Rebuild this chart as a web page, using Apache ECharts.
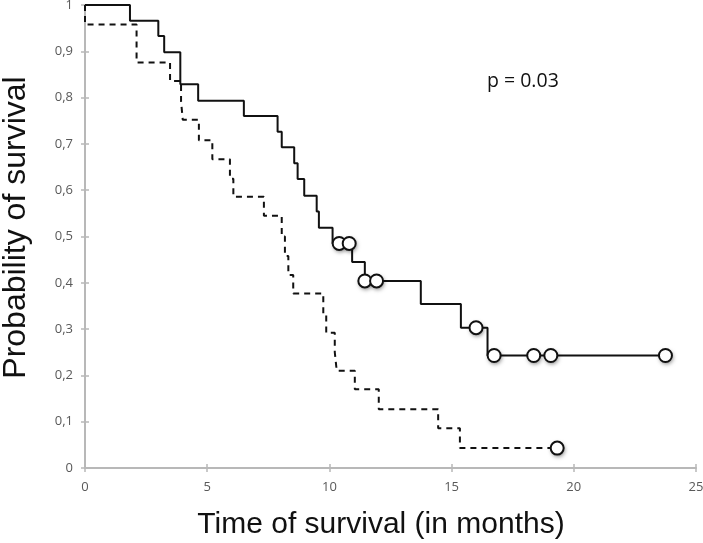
<!DOCTYPE html>
<html>
<head>
<meta charset="utf-8">
<script src="https://cdn.jsdelivr.net/npm/echarts@6/dist/echarts.min.js"></script>
<style>html,body{margin:0;padding:0;background:#fff}#c{width:703px;height:543px}</style>
</head>
<body>
<div id="c"></div>
<script>
// Solid group (step curve)
const solidTimes = [0, 1.84, 3.0, 3.24, 3.90, 4.63, 6.50, 7.88, 8.05, 8.56, 8.70, 8.97, 9.48, 9.57, 10.13, 10.93, 11.45, 13.74, 15.38, 16.47, 23.75];
const solidSurv  = [1, 0.966, 0.933, 0.898, 0.829, 0.793, 0.760, 0.726, 0.693, 0.658, 0.624, 0.588, 0.554, 0.519, 0.485, 0.445, 0.404, 0.354, 0.303, 0.243, 0.243];
const solidCensorTimes = [10.40, 10.81, 11.45, 11.93, 16.00, 16.74, 18.36, 19.06, 23.75];
const solidCensorSurv  = [0.485, 0.485, 0.404, 0.404, 0.303, 0.243, 0.243, 0.243, 0.243];

// Dashed group (step curve)
const dashTimes = [0, 0, 2.11, 3.48, 3.93, 4.00, 4.66, 5.21, 5.93, 6.07, 7.32, 8.05, 8.18, 8.32, 8.52, 9.75, 9.87, 10.22, 10.30, 11.04, 12.02, 14.45, 15.34, 19.32];
const dashSurv  = [1, 0.958, 0.876, 0.836, 0.792, 0.752, 0.708, 0.667, 0.625, 0.586, 0.545, 0.500, 0.458, 0.417, 0.377, 0.333, 0.292, 0.250, 0.210, 0.170, 0.127, 0.086, 0.043, 0.043];
const dashCensorTimes = [19.32];
const dashCensorSurv  = [0.043];

const xTicks = [0, 5, 10, 15, 20, 25];
const yTicks = [0, 0.1, 0.2, 0.3, 0.4, 0.5, 0.6, 0.7, 0.8, 0.9, 1];
const pText = 'p = 0.03';
const xTitle = 'Time of survival (in months)';
const yTitle = 'Probability of survival';

const zip = (a, b) => a.map((v, i) => [v, b[i]]);
const fmtY = v => String(+(+v).toFixed(1)).replace('.', ',');

const chart = echarts.init(document.getElementById('c'), null, {renderer: 'canvas'});
const axisGray = '#b8b8b8';
const lblColor = '#595959';
const lblFont = 'Open Sans';

const baseX = {
  type: 'value', min: xTicks[0], max: xTicks[xTicks.length - 1], interval: 5,
  splitLine: {show: false},
};
const baseY = {
  type: 'value', min: yTicks[0], max: yTicks[yTicks.length - 1], interval: 0.1,
  splitLine: {show: false},
};
const censorData = zip(solidCensorTimes, solidCensorSurv).concat(zip(dashCensorTimes, dashCensorSurv));

chart.setOption({
  animation: false,
  grid: {left: 85, right: 7, top: 5, bottom: 75, containLabel: false, outerBoundsMode: 'none'},
  xAxis: [
    Object.assign({}, baseX, {
      axisLine: {show: true, lineStyle: {color: axisGray, width: 2}},
      axisTick: {show: true, inside: false, length: 4, lineStyle: {color: axisGray, width: 1.5}},
      axisLabel: {color: lblColor, fontFamily: lblFont, fontSize: 13, margin: 13},
      name: xTitle, nameLocation: 'middle', nameGap: 42,
      nameTextStyle: {fontFamily: 'Liberation Sans', fontSize: 30, color: '#111', padding: [0, 19, 0, 0]}
    }),
    Object.assign({}, baseX, {
      position: 'bottom',
      axisLine: {show: false},
      axisTick: {show: true, inside: true, length: 4, lineStyle: {color: axisGray, width: 1.5}},
      axisLabel: {show: false}
    })
  ],
  yAxis: [
    Object.assign({}, baseY, {
      axisLine: {show: true, lineStyle: {color: axisGray, width: 2}},
      axisTick: {show: true, inside: false, length: 4, lineStyle: {color: axisGray, width: 1.5}},
      axisLabel: {color: lblColor, fontFamily: lblFont, fontSize: 13, margin: 12, formatter: fmtY},
      name: yTitle, nameLocation: 'middle', nameGap: 53, nameRotate: 90,
      nameTextStyle: {fontFamily: 'Liberation Sans', fontSize: 32, color: '#111', padding: [0, 0, 0, 18]}
    }),
    Object.assign({}, baseY, {
      position: 'left',
      axisLine: {show: false},
      axisTick: {show: true, inside: true, length: 4, lineStyle: {color: axisGray, width: 1.5}},
      axisLabel: {show: false}
    })
  ],
  graphic: [{
    type: 'text', x: 487, y: 81,
    style: {text: pText, fontFamily: 'Open Sans', fontSize: 19.5, fill: '#111', textVerticalAlign: 'middle', verticalAlign: 'middle'}
  }],
  series: [
    {
      type: 'line', step: 'end', data: zip(dashTimes, dashSurv), showSymbol: false, symbol: 'none',
      lineStyle: {color: '#111', width: 2, type: [6, 5]}, z: 2
    },
    {
      type: 'line', step: 'end', data: zip(solidTimes, solidSurv), showSymbol: false, symbol: 'none',
      lineStyle: {color: '#111', width: 2}, z: 3
    },
    {
      // shadow layer under the censor circles
      type: 'scatter', data: censorData, symbol: 'circle', symbolSize: 13, silent: true,
      itemStyle: {color: '#fff', opacity: 1,
        shadowBlur: 4, shadowColor: 'rgba(0,0,0,0.5)', shadowOffsetX: 1, shadowOffsetY: 2},
      z: 4
    },
    {
      type: 'scatter', data: censorData, symbol: 'circle', symbolSize: 13,
      itemStyle: {color: '#fff', borderColor: '#111', borderWidth: 2, opacity: 1},
      z: 5
    }
  ]
});
</script>
</body>
</html>
